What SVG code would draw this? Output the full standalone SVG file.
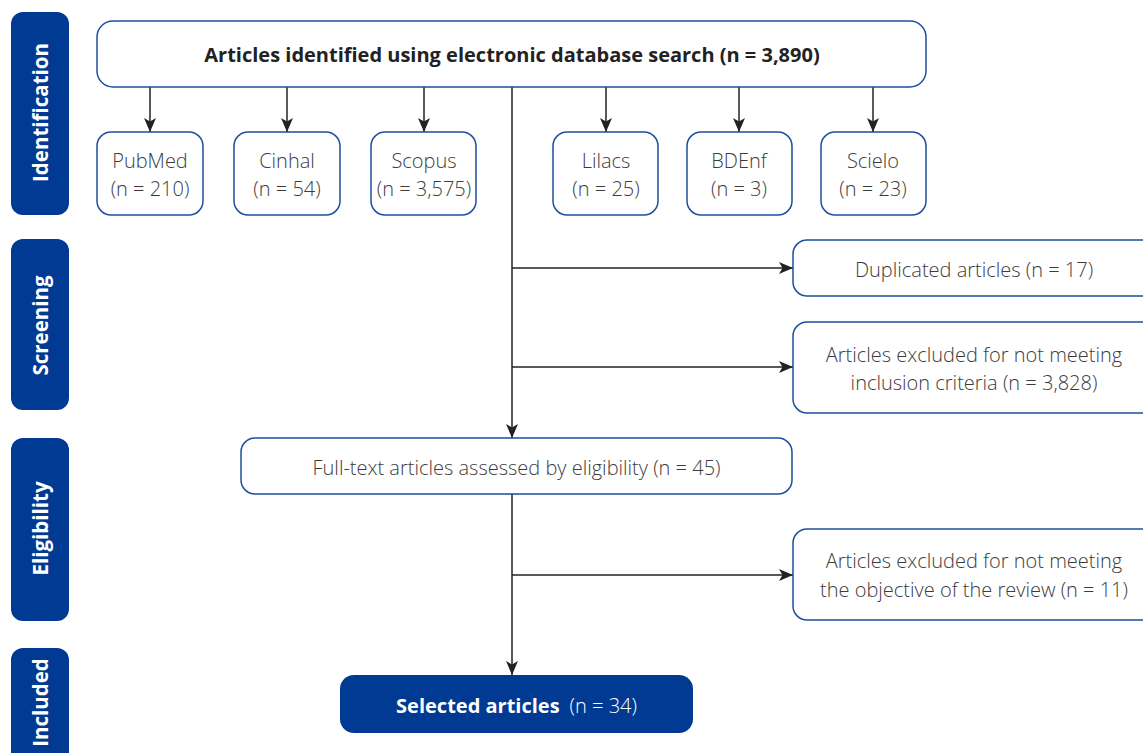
<svg xmlns="http://www.w3.org/2000/svg" width="1143" height="753" viewBox="0 0 1143 753">
  <defs>
    <marker id="arrow" viewBox="0 0 14 12" refX="14" refY="6" markerWidth="14" markerHeight="12" markerUnits="userSpaceOnUse" orient="auto">
      <path d="M0,0 L14,6 L0,12 L3.5,6 Z" fill="#222"/>
    </marker>
    <style>
      .box { fill: #fff; stroke: #1d4f9f; stroke-width: 1.5; }
      .stage { fill: #003a93; }
      .sel { fill: #003a93; }
      .lbl { font-family: "Open Sans", "Noto Sans", sans-serif; font-weight: 300; font-size: 20px; fill: #3c3c3c; text-anchor: middle; }
      .title { font-family: "Open Sans", "Noto Sans", sans-serif; font-weight: 700; font-size: 20px; fill: #222; text-anchor: middle; }
      .stxt { font-family: "Open Sans", "Noto Sans", sans-serif; font-weight: 700; font-size: 20.5px; fill: #fff; text-anchor: middle; }
      .conn { stroke: #222; stroke-width: 1.5; fill: none; }
    </style>
  </defs>
  <rect width="1143" height="753" fill="#fff"/>

  <!-- stage bars -->
  <g id="stage-identification">
    <rect class="stage" x="11" y="12" width="58" height="203" rx="12"/>
    <text class="stxt" transform="translate(40,112.5) rotate(-90)" dy="7.5">Identification</text>
  </g>
  <g id="stage-screening">
    <rect class="stage" x="11" y="239" width="58" height="171" rx="12"/>
    <text class="stxt" transform="translate(40,325.5) rotate(-90)" dy="7.5">Screening</text>
  </g>
  <g id="stage-eligibility">
    <rect class="stage" x="11" y="438" width="58" height="183" rx="12"/>
    <text class="stxt" transform="translate(40,528.5) rotate(-90)" dy="7.5">Eligibility</text>
  </g>
  <g id="stage-included">
    <rect class="stage" x="11" y="648" width="58" height="130" rx="12"/>
    <text class="stxt" transform="translate(40,702.5) rotate(-90)" dy="7.5">Included</text>
  </g>

  <!-- connectors -->
  <g id="connectors">
    <line class="conn" x1="150" y1="87" x2="150" y2="132" marker-end="url(#arrow)"/>
    <line class="conn" x1="287" y1="87" x2="287" y2="132" marker-end="url(#arrow)"/>
    <line class="conn" x1="424" y1="87" x2="424" y2="132" marker-end="url(#arrow)"/>
    <line class="conn" x1="606" y1="87" x2="606" y2="132" marker-end="url(#arrow)"/>
    <line class="conn" x1="739" y1="87" x2="739" y2="132" marker-end="url(#arrow)"/>
    <line class="conn" x1="873" y1="87" x2="873" y2="132" marker-end="url(#arrow)"/>
    <line class="conn" x1="512" y1="87" x2="512" y2="438" marker-end="url(#arrow)"/>
    <line class="conn" x1="512" y1="268" x2="793" y2="268" marker-end="url(#arrow)"/>
    <line class="conn" x1="512" y1="367" x2="793" y2="367" marker-end="url(#arrow)"/>
    <line class="conn" x1="512" y1="494" x2="512" y2="675" marker-end="url(#arrow)"/>
    <line class="conn" x1="512" y1="575" x2="793" y2="575" marker-end="url(#arrow)"/>
  </g>

  <g id="search">
    <rect class="box" x="97" y="21" width="829" height="66" rx="16"/>
    <text class="title" x="512" y="62">Articles identified using electronic database search (n = 3,890)</text>
  </g>

  <g id="pubmed">
    <rect class="box" x="97" y="132" width="106" height="83" rx="14"/>
    <text class="lbl" x="150" y="168">PubMed</text>
    <text class="lbl" x="150" y="196">(n = 210)</text>
  </g>
  <g id="cinhal">
    <rect class="box" x="234" y="132" width="106" height="83" rx="14"/>
    <text class="lbl" x="287" y="168">Cinhal</text>
    <text class="lbl" x="287" y="196">(n = 54)</text>
  </g>
  <g id="scopus">
    <rect class="box" x="371" y="132" width="105" height="83" rx="14"/>
    <text class="lbl" x="424" y="168">Scopus</text>
    <text class="lbl" x="424" y="196">(n = 3,575)</text>
  </g>
  <g id="lilacs">
    <rect class="box" x="553" y="132" width="105" height="83" rx="14"/>
    <text class="lbl" x="606" y="168">Lilacs</text>
    <text class="lbl" x="606" y="196">(n = 25)</text>
  </g>
  <g id="bdenf">
    <rect class="box" x="687" y="132" width="105" height="83" rx="14"/>
    <text class="lbl" x="739" y="168">BDEnf</text>
    <text class="lbl" x="739" y="196">(n = 3)</text>
  </g>
  <g id="scielo">
    <rect class="box" x="821" y="132" width="105" height="83" rx="14"/>
    <text class="lbl" x="873" y="168">Scielo</text>
    <text class="lbl" x="873" y="196">(n = 23)</text>
  </g>

  <g id="duplicated">
    <rect class="box" x="793" y="240" width="370" height="56" rx="14"/>
    <text class="lbl" x="974" y="277">Duplicated articles (n = 17)</text>
  </g>
  <g id="excluded-inclusion">
    <rect class="box" x="793" y="322" width="370" height="91" rx="14"/>
    <text class="lbl" x="974" y="362">Articles excluded for not meeting</text>
    <text class="lbl" x="974" y="390">inclusion criteria (n = 3,828)</text>
  </g>

  <g id="fulltext">
    <rect class="box" x="241" y="438" width="551" height="56" rx="14"/>
    <text class="lbl" x="516.5" y="475">Full-text articles assessed by eligibility (n = 45)</text>
  </g>

  <g id="excluded-objective">
    <rect class="box" x="793" y="529" width="370" height="91" rx="14"/>
    <text class="lbl" x="974" y="568">Articles excluded for not meeting</text>
    <text class="lbl" x="974" y="597">the objective of the review (n = 11)</text>
  </g>

  <g id="selected">
    <rect class="sel" x="340" y="675" width="353" height="58" rx="14"/>
    <text x="516.5" y="713" text-anchor="middle" font-family="Open Sans, Noto Sans, sans-serif" font-size="20" fill="#fff"><tspan font-weight="700">Selected articles</tspan><tspan font-weight="300" dx="10">(n = 34)</tspan></text>
  </g>
</svg>
